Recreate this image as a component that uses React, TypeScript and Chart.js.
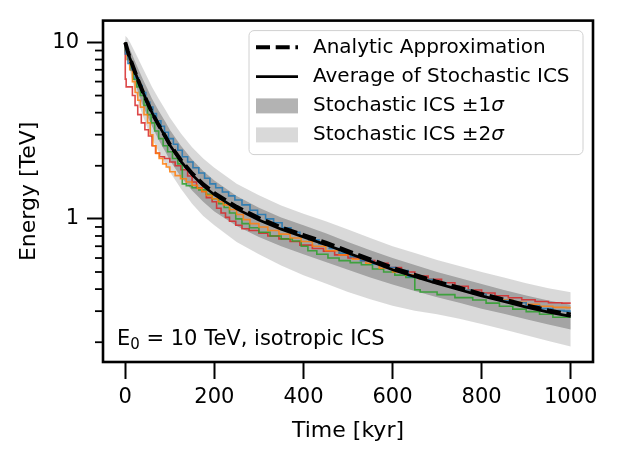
import React, { useEffect, useRef } from 'react';
import { Chart, registerables } from 'chart.js';

Chart.register(...registerables);

const FONT = '"DejaVu Sans", "Liberation Sans", sans-serif';

// ---- axes ----
const xMin = -50;
const xMax = 1050;
const xTickValues = [0, 200, 400, 600, 800, 1000];
const yMin = 0.1545;
const yMax = 13.3;
const yTickValues = [1, 10];
const yMinorTicks = [0.2, 0.3, 0.4, 0.5, 0.6, 0.7, 0.8, 0.9, 2, 3, 4, 5, 6, 7, 8, 9];

const xTitle = 'Time [kyr]';
const yTitle = 'Energy [TeV]';
const legendLabels = ['Analytic Approximation', 'Average of Stochastic ICS', 'Stochastic ICS \u00b11', 'Stochastic ICS \u00b12'];

// ---- smooth curves (time in kyr, energy in TeV) ----
const bandTime = [0, 5, 10, 20, 30, 40, 50, 60, 75, 90, 100, 125, 150, 175, 200, 250, 300, 350, 400, 450, 500, 550, 600, 650, 700, 750, 800, 850, 900, 950, 1000];
const averageEnergy = [10, 9.0, 8.2, 7.0, 6.0, 5.2, 4.55, 4.0, 3.4, 2.92, 2.62, 2.12, 1.78, 1.54, 1.37, 1.14, 0.985, 0.875, 0.79, 0.715, 0.64, 0.575, 0.515, 0.47, 0.43, 0.397, 0.366, 0.34, 0.316, 0.296, 0.28];
const analyticEnergy = [10, 9.0, 8.2, 7.0, 6.0, 5.2, 4.55, 4.0, 3.4, 2.93, 2.64, 2.15, 1.81, 1.57, 1.4, 1.17, 1.01, 0.895, 0.81, 0.733, 0.656, 0.59, 0.528, 0.482, 0.44, 0.407, 0.375, 0.349, 0.324, 0.303, 0.287];
const upper2Sigma = [10.9, 10.6, 10.1, 9.0, 8.0, 7.1, 6.3, 5.6, 4.8, 4.15, 3.75, 3.05, 2.55, 2.2, 1.95, 1.58, 1.36, 1.19, 1.07, 0.97, 0.87, 0.78, 0.7, 0.64, 0.585, 0.54, 0.5, 0.465, 0.432, 0.405, 0.384];
const lower2Sigma = [9.3, 8.0, 7.0, 5.5, 4.5, 3.8, 3.25, 2.85, 2.4, 2.05, 1.85, 1.48, 1.22, 1.04, 0.92, 0.74, 0.63, 0.545, 0.48, 0.43, 0.385, 0.35, 0.322, 0.302, 0.288, 0.272, 0.254, 0.236, 0.219, 0.203, 0.189];
const upper1Sigma = [10.4, 9.8, 9.2, 8.0, 7.0, 6.15, 5.45, 4.8, 4.1, 3.55, 3.2, 2.6, 2.17, 1.87, 1.65, 1.35, 1.155, 1.02, 0.92, 0.83, 0.74, 0.665, 0.6, 0.548, 0.5, 0.462, 0.428, 0.396, 0.368, 0.345, 0.326];
const lower1Sigma = [9.6, 8.4, 7.5, 6.1, 5.1, 4.35, 3.8, 3.35, 2.8, 2.4, 2.15, 1.73, 1.45, 1.25, 1.1, 0.91, 0.79, 0.7, 0.63, 0.57, 0.515, 0.465, 0.425, 0.39, 0.36, 0.335, 0.31, 0.29, 0.27, 0.252, 0.236];

// ---- individual stochastic tracks (step after each scattering) ----
const blueTime = [0, 6, 14, 22, 30, 38, 46, 55, 62, 70, 80, 88, 97, 108, 118, 128, 140, 152, 165, 178, 190, 203, 218, 232, 246, 262, 280, 297, 315, 333, 352, 372, 392, 412, 435, 458, 480, 505, 528, 555, 580, 608, 635, 662, 690, 720, 750, 780, 810, 840, 870, 900, 930, 960, 985, 1000];
const blueEnergy = [10, 8.6, 7.6, 7.0, 6.3, 5.7, 5.2, 4.6, 4.3, 3.95, 3.6, 3.35, 3.1, 2.85, 2.65, 2.45, 2.25, 2.1, 1.95, 1.82, 1.7, 1.58, 1.5, 1.42, 1.35, 1.28, 1.2, 1.12, 1.06, 1.0, 0.95, 0.89, 0.84, 0.8, 0.76, 0.72, 0.68, 0.64, 0.61, 0.58, 0.555, 0.53, 0.51, 0.47, 0.455, 0.435, 0.415, 0.395, 0.375, 0.36, 0.345, 0.335, 0.322, 0.31, 0.302, 0.3];

const orangeTime = [0, 4, 10, 16, 22, 28, 34, 42, 50, 56, 62, 69, 76, 84, 92, 100, 112, 124, 137, 150, 162, 172, 182, 195, 208, 220, 234, 250, 265, 280, 300, 320, 345, 370, 395, 420, 450, 480, 510, 540, 570, 600, 630, 660, 690, 720, 750, 780, 810, 840, 870, 900, 930, 960, 990, 1000];
const orangeEnergy = [10, 8.8, 8.0, 7.0, 6.0, 5.2, 4.7, 4.3, 3.9, 3.5, 3.0, 2.6, 2.35, 2.2, 2.05, 1.97, 1.85, 1.76, 1.69, 1.62, 1.55, 1.49, 1.43, 1.36, 1.3, 1.25, 1.2, 1.13, 1.06, 0.99, 0.94, 0.9, 0.86, 0.82, 0.78, 0.745, 0.7, 0.66, 0.625, 0.59, 0.56, 0.525, 0.5, 0.48, 0.455, 0.435, 0.415, 0.395, 0.375, 0.36, 0.348, 0.337, 0.328, 0.32, 0.315, 0.314];

const greenTime = [0, 5, 12, 18, 26, 34, 42, 50, 58, 66, 75, 85, 95, 106, 118, 128, 137, 150, 165, 182, 195, 210, 222, 234, 248, 262, 279, 300, 325, 350, 375, 395, 410, 430, 455, 480, 505, 530, 555, 580, 605, 630, 650, 662, 700, 740, 780, 810, 840, 870, 900, 930, 960, 1000];
const greenEnergy = [10, 9.0, 8.0, 7.0, 6.2, 5.6, 5.0, 4.4, 3.9, 3.5, 3.15, 2.85, 2.6, 2.4, 2.2, 2.05, 1.58, 1.54, 1.5, 1.46, 1.38, 1.3, 1.22, 1.16, 1.08, 1.0, 0.94, 0.89, 0.84, 0.8, 0.77, 0.75, 0.7, 0.66, 0.63, 0.6, 0.58, 0.565, 0.55, 0.52, 0.5, 0.48, 0.465, 0.397, 0.385, 0.372, 0.358, 0.347, 0.333, 0.32, 0.308, 0.298, 0.288, 0.277];

const redTime = [0, 2, 16, 22, 28, 36, 44, 52, 60, 68, 77, 88, 100, 112, 125, 140, 150, 160, 172, 182, 195, 205, 215, 225, 234, 248, 262, 278, 300, 320, 345, 370, 392, 420, 445, 470, 500, 530, 560, 590, 620, 650, 680, 710, 740, 770, 800, 830, 860, 890, 920, 950, 980, 1000];
const redEnergy = [10, 6.2, 5.6, 5.0, 4.4, 3.9, 3.5, 3.2, 2.95, 2.6, 2.36, 2.25, 2.2, 2.1, 2.0, 1.9, 1.75, 1.62, 1.5, 1.43, 1.32, 1.25, 1.15, 1.08, 1.02, 0.97, 0.92, 0.88, 0.86, 0.83, 0.8, 0.77, 0.745, 0.71, 0.68, 0.655, 0.625, 0.6, 0.58, 0.56, 0.53, 0.5, 0.475, 0.455, 0.435, 0.415, 0.395, 0.38, 0.367, 0.357, 0.348, 0.34, 0.335, 0.333];

const toPoints = (t: number[], e: number[]) => t.map((x, i) => ({ x, y: e[i] }));

const LIGHT_FILL = 'rgba(128,128,128,0.3)';
const DARK_FILL = 'rgba(128,128,128,0.6)';

const decorPlugin = {
  id: 'decor',
  afterDraw(chart: any) {
    const { ctx, chartArea: a, scales } = chart;
    const ys = scales.y;
    ctx.save();
    // minor y ticks
    ctx.strokeStyle = '#000';
    ctx.lineWidth = 1.8;
    for (const v of yMinorTicks) {
      const py = ys.getPixelForValue(v);
      ctx.beginPath();
      ctx.moveTo(a.left - 8, py);
      ctx.lineTo(a.left, py);
      ctx.stroke();
    }
    // frame
    ctx.lineWidth = 2.6;
    ctx.strokeRect(a.left, a.top, a.right - a.left, a.bottom - a.top);

    // annotation text
    ctx.fillStyle = '#000';
    ctx.textBaseline = 'alphabetic';
    ctx.textAlign = 'left';
    let tx = a.left + 14;
    const ty = a.bottom - 17;
    ctx.font = `21px ${FONT}`;
    ctx.fillText('E', tx, ty);
    tx += ctx.measureText('E').width;
    ctx.font = `15px ${FONT}`;
    ctx.fillText('0', tx, ty + 4);
    tx += ctx.measureText('0').width;
    ctx.font = `21px ${FONT}`;
    ctx.fillText(' = 10 TeV, isotropic ICS', tx, ty);

    // legend
    const lx0 = a.left + 146;
    const ly0 = a.top + 10;
    const lx1 = a.right - 10;
    const ly1 = a.top + 134;
    ctx.beginPath();
    ctx.roundRect(lx0, ly0, lx1 - lx0, ly1 - ly0, 5);
    ctx.fillStyle = 'rgba(255,255,255,0.8)';
    ctx.fill();
    ctx.strokeStyle = '#d0d0d0';
    ctx.lineWidth = 1;
    ctx.stroke();

    const hx0 = lx0 + 7;
    const hx1 = lx0 + 49;
    const textX = lx0 + 64;
    const rows = [a.top + 26.7, a.top + 56, a.top + 85.3, a.top + 114.3];
    // dashed
    ctx.strokeStyle = '#000';
    ctx.lineWidth = 4;
    ctx.setLineDash([14, 5.7]);
    ctx.beginPath();
    ctx.moveTo(hx0, rows[0]);
    ctx.lineTo(hx1, rows[0]);
    ctx.stroke();
    ctx.setLineDash([]);
    ctx.lineWidth = 2.7;
    ctx.beginPath();
    ctx.moveTo(hx0, rows[1]);
    ctx.lineTo(hx1, rows[1]);
    ctx.stroke();
    ctx.fillStyle = '#b3b3b3';
    ctx.fillRect(hx0, rows[2] - 7.5, hx1 - hx0, 15);
    ctx.fillStyle = '#d9d9d9';
    ctx.fillRect(hx0, rows[3] - 7.5, hx1 - hx0, 15);

    ctx.fillStyle = '#000';
    ctx.textBaseline = 'middle';
    ctx.font = `20px ${FONT}`;
    for (let i = 0; i < legendLabels.length; i++) {
      ctx.font = `20px ${FONT}`;
      ctx.fillText(legendLabels[i], textX, rows[i]);
      if (i >= 2) {
        const w = ctx.measureText(legendLabels[i]).width;
        ctx.font = `italic 20px ${FONT}`;
        ctx.fillText('\u03c3', textX + w, rows[i]);
      }
    }
    ctx.restore();
  },
};

export default function App() {
  const canvasRef = useRef<HTMLCanvasElement | null>(null);

  useEffect(() => {
    const canvas = canvasRef.current;
    if (!canvas) return;
    const lineBase = { pointRadius: 0, tension: 0, fill: false };
    const chart = new Chart(canvas, {
      type: 'line',
      data: {
        datasets: [
          { ...lineBase, label: 'u2', data: toPoints(bandTime, upper2Sigma), borderWidth: 0, borderColor: 'rgba(0,0,0,0)', backgroundColor: LIGHT_FILL, fill: '+1', order: 10 },
          { ...lineBase, label: 'l2', data: toPoints(bandTime, lower2Sigma), borderWidth: 0, borderColor: 'rgba(0,0,0,0)', order: 10 },
          { ...lineBase, label: 'u1', data: toPoints(bandTime, upper1Sigma), borderWidth: 0, borderColor: 'rgba(0,0,0,0)', backgroundColor: DARK_FILL, fill: '+1', order: 9 },
          { ...lineBase, label: 'l1', data: toPoints(bandTime, lower1Sigma), borderWidth: 0, borderColor: 'rgba(0,0,0,0)', order: 9 },
          { ...lineBase, label: 'blue', data: toPoints(blueTime, blueEnergy), borderWidth: 1.6, borderColor: 'rgba(31,119,180,0.85)', stepped: 'after', order: 5 },
          { ...lineBase, label: 'orange', data: toPoints(orangeTime, orangeEnergy), borderWidth: 1.6, borderColor: 'rgba(255,127,14,0.85)', stepped: 'after', order: 5 },
          { ...lineBase, label: 'green', data: toPoints(greenTime, greenEnergy), borderWidth: 1.6, borderColor: 'rgba(44,160,44,0.85)', stepped: 'after', order: 5 },
          { ...lineBase, label: 'red', data: toPoints(redTime, redEnergy), borderWidth: 1.6, borderColor: 'rgba(214,39,40,0.85)', stepped: 'after', order: 5 },
          { ...lineBase, label: legendLabels[1], data: toPoints(bandTime, averageEnergy), borderWidth: 2.7, borderColor: '#000', order: 2 },
          { ...lineBase, label: legendLabels[0], data: toPoints(bandTime, analyticEnergy), borderWidth: 4, borderColor: '#000', borderDash: [14, 5.7], order: 1 },
        ],
      },
      options: {
        animation: false,
        responsive: false,
        devicePixelRatio: 1,
        events: [],
        layout: { padding: { top: 4, right: 27, left: 0, bottom: 5 } },
        plugins: { legend: { display: false }, tooltip: { enabled: false } },
        scales: {
          x: {
            type: 'linear',
            min: xMin,
            max: xMax,
            afterBuildTicks: (s: any) => { s.ticks = xTickValues.map((v) => ({ value: v })); },
            afterFit: (s: any) => { s.height = 82; },
            border: { display: false },
            grid: { drawOnChartArea: false, drawTicks: true, tickLength: 17, tickWidth: 2, tickColor: '#000' },
            ticks: { color: '#000', font: { family: FONT, size: 21 }, padding: 6, maxRotation: 0, autoSkip: false, callback: (v: any) => String(v) },
            title: { display: true, text: xTitle, color: '#000', font: { family: FONT, size: 22 }, padding: { top: 0, bottom: 0 } },
          },
          y: {
            type: 'logarithmic',
            min: yMin,
            max: yMax,
            afterBuildTicks: (s: any) => { s.ticks = yTickValues.map((v) => ({ value: v })); },
            afterFit: (s: any) => { s.width = 103; },
            border: { display: false },
            grid: { drawOnChartArea: false, drawTicks: true, tickLength: 16, tickWidth: 2, tickColor: '#000' },
            ticks: { color: '#000', font: { family: FONT, size: 21 }, padding: 8, autoSkip: false, callback: (v: any) => String(v) },
            title: { display: true, text: yTitle, color: '#000', font: { family: FONT, size: 22 }, padding: { top: 16, bottom: 0 } },
          },
        },
      },
      plugins: [decorPlugin],
    } as any);
    return () => chart.destroy();
  }, []);

  return (
    <div style={{ position: 'fixed', left: 0, top: 0, width: 620, height: 449, background: '#fff' }}>
      <canvas ref={canvasRef} width={620} height={449} style={{ display: 'block', width: 620, height: 449 }} />
    </div>
  );
}
